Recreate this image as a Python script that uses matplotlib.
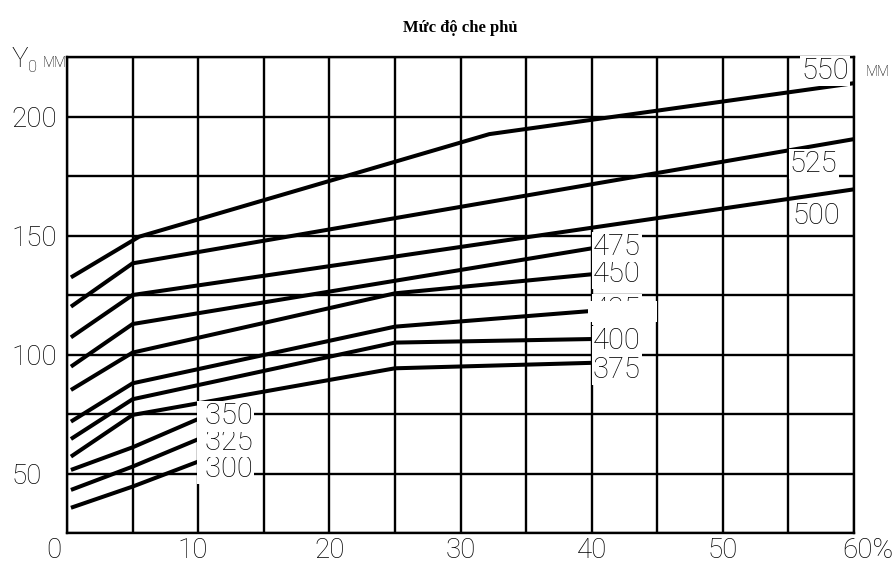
import matplotlib
matplotlib.use("Agg")
import matplotlib.pyplot as plt
import matplotlib.transforms as mtransforms
from matplotlib.patches import Rectangle
import numpy as np

# ---------------- data ----------------
series_names = ["300", "325", "350", "375", "400", "425", "450", "475", "500", "525", "550"]
x_300 = [0.3, 5, 10];            y_300 = [35.6, 44.5, 55.0]
x_325 = [0.3, 5, 10];            y_325 = [43.1, 52.9, 64.4]
x_350 = [0.3, 5, 10];            y_350 = [51.5, 61.0, 72.9]
x_375 = [0.3, 5, 25, 40];        y_375 = [57.1, 74.6, 94.2, 96.5]
x_400 = [0.3, 5, 25, 40];        y_400 = [64.5, 81.2, 105.0, 106.5]
x_425 = [0.3, 5, 25, 40];        y_425 = [71.8, 87.9, 111.7, 118.3]
x_450 = [0.3, 5, 25, 40];        y_450 = [85.1, 100.8, 125.7, 133.7]
x_475 = [0.3, 5, 40];            y_475 = [94.9, 112.8, 144.6]
x_500 = [0.3, 5, 60];            y_500 = [107.2, 125.0, 169.4]
x_525 = [0.3, 5, 60];            y_525 = [120.1, 138.3, 190.5]
x_550 = [0.3, 5.5, 32.2, 60];    y_550 = [132.4, 149.5, 192.6, 214.0]

x_tick_values = [0, 10, 20, 30, 40, 50, 60]
x_tick_labels = ["0", "10", "20", "30", "40", "50", "60%"]
y_tick_values = [50, 100, 150, 200]
y_tick_labels = ["50", "100", "150", "200"]

series = {
    "300": (x_300, y_300), "325": (x_325, y_325), "350": (x_350, y_350),
    "375": (x_375, y_375), "400": (x_400, y_400), "425": (x_425, y_425),
    "450": (x_450, y_450), "475": (x_475, y_475), "500": (x_500, y_500),
    "525": (x_525, y_525), "550": (x_550, y_550),
}

# label placement (layout only); lead = leading blank so the white box covers the grid line
label_pos = {
    "300": (10.0, 52.1, " "), "325": (10.0, 63.3, " "), "350": (10.0, 74.0, " "),
    "375": (40.1, 93.5, ""), "400": (40.1, 105.7, ""), "425": (40.1, 118.9, ""),
    "450": (40.1, 133.8, ""), "475": (40.1, 145.2, ""),
    "500": (55.3, 158.2, ""), "525": (55.1, 180.0, ""), "550": (56.0, 219.1, ""),
}

# ---------------- style ----------------
LBL_FONT = dict(family=["Roboto", "DejaVu Sans"], fontweight="light")
W, H, DPI = 893, 576, 100
fig = plt.figure(figsize=(W / DPI, H / DPI), dpi=DPI)
L, R, T, B = 67, 854, 57, 533
ax = fig.add_axes([L / W, 1 - B / H, (R - L) / W, (B - T) / H])

ax.set_xlim(0, 60)
ax.set_ylim(25, 225)

grid_lw = 1.7
ax.set_xticks(np.arange(0, 61, 5), minor=True)
ax.set_yticks(np.arange(25, 226, 25), minor=True)
ax.set_xticks(x_tick_values, x_tick_labels, fontsize=20, color="black", **LBL_FONT)
ax.set_yticks(y_tick_values, y_tick_labels, fontsize=20, ha="left", color="black", **LBL_FONT)
ax.tick_params(which="both", length=0)
ax.tick_params(axis="y", pad=40)
ax.tick_params(axis="x", pad=3)
ax.grid(which="both", color="black", linewidth=grid_lw)
ax.set_axisbelow(True)
for s in ax.spines.values():
    s.set_linewidth(grid_lw)
    s.set_color("black")
    s.set_zorder(1.5)

# x label offsets (pixels)
offs = [-13, -5, 0, 0, 0, 0, 14]
for lab, o in zip(ax.get_xticklabels(), offs):
    lab.set_transform(lab.get_transform() + mtransforms.ScaledTranslation(o / DPI, 0, fig.dpi_scale_trans))

# curves
for name in series_names:
    xs, ys = series[name]
    ax.plot(xs, ys, color="black", linewidth=2.9, solid_capstyle="butt",
            solid_joinstyle="miter", zorder=3)

# curve labels with white background
for name in series_names:
    lx, ly, lead = label_pos[name]
    ax.text(lx, ly, lead + name, fontsize=21, ha="left", va="center", color="black",
            bbox=dict(facecolor="white", edgecolor="none", pad=0.8), zorder=5,
            clip_on=False, **LBL_FONT)

# white patch hiding most of the "425" label
ax.add_patch(Rectangle((39.7, 113.6), 5.3, 8.8, facecolor="white", edgecolor="none",
                       zorder=6, clip_on=False))

# units
ax.text(1.015, 218.5, "MM", transform=ax.get_yaxis_transform(), fontsize=10,
        ha="left", va="center", clip_on=False, **LBL_FONT)

# Y0 mm header
fig.text(12 / W, 1 - 67 / H, "Y", fontsize=20, ha="left", va="baseline", **LBL_FONT)
fig.text(28 / W, 1 - 72 / H, "0", fontsize=12, ha="left", va="baseline", **LBL_FONT)
fig.text(43 / W, 1 - 67 / H, "MM", fontsize=10, ha="left", va="baseline", **LBL_FONT)

# title
fig.text(460 / W, 1 - 28 / H, "Mức độ che phủ", fontsize=12, fontweight="bold",
         family=["Liberation Serif", "DejaVu Serif"], ha="center", va="center")

fig.savefig("out.png", dpi=DPI, facecolor="white")
